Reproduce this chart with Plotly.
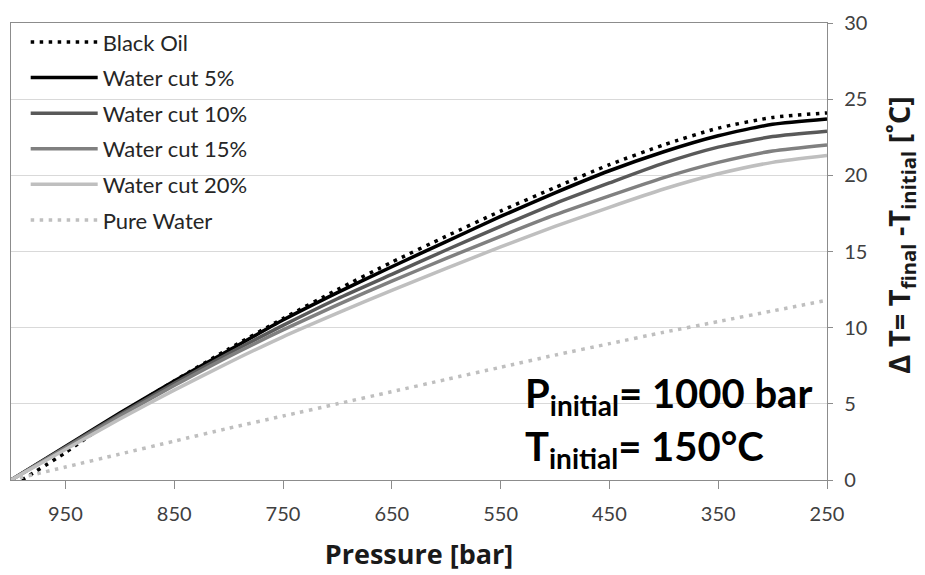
import plotly.graph_objects as go

pressure = [1000, 950, 900, 850, 800, 750, 700, 650, 600, 550, 500, 450, 400, 350, 300, 250]
black_oil_pressure = [990, 950, 900, 850, 800, 750, 700, 650, 600, 550, 500, 450, 400, 350, 300, 250]
black_oil = [0, 1.8, 4.3, 6.5, 8.6, 10.6, 12.5, 14.3, 16.0, 17.65, 19.2, 20.7, 22.0, 23.1, 23.8, 24.1]
wc5 = [0, 2.2, 4.4, 6.5, 8.5, 10.5, 12.3, 14.0, 15.65, 17.3, 18.85, 20.3, 21.55, 22.6, 23.35, 23.7]
wc10 = [0, 2.15, 4.3, 6.35, 8.3, 10.15, 11.9, 13.5, 15.1, 16.65, 18.15, 19.5, 20.8, 21.85, 22.55, 22.9]
wc15 = [0, 2.1, 4.2, 6.2, 8.1, 9.85, 11.5, 13.05, 14.55, 16.0, 17.4, 18.65, 19.85, 20.85, 21.6, 22.0]
wc20 = [0, 2.0, 4.0, 5.9, 7.7, 9.4, 10.95, 12.45, 13.9, 15.3, 16.65, 17.9, 19.1, 20.1, 20.85, 21.3]
pure_water = [0, 0.85, 1.7, 2.55, 3.4, 4.2, 5.0, 5.8, 6.6, 7.4, 8.2, 8.95, 9.7, 10.4, 11.1, 11.8]

x_ticks = [950, 850, 750, 650, 550, 450, 350, 250]
y_ticks = [0, 5, 10, 15, 20, 25, 30]

FONT = "Lato, Carlito, Calibri, sans-serif"
TITLE_FONT = "'Open Sans', Lato, sans-serif"

series = [
    ("Black Oil", black_oil_pressure, black_oil, "#000000", 3.5, "3.5px,5.5px"),
    ("Water cut 5%", pressure, wc5, "#000000", 3.5, "solid"),
    ("Water cut 10%", pressure, wc10, "#595959", 3.5, "solid"),
    ("Water cut 15%", pressure, wc15, "#808080", 3.5, "solid"),
    ("Water cut 20%", pressure, wc20, "#bfbfbf", 3.5, "solid"),
    ("Pure Water", pressure, pure_water, "#bfbfbf", 3.5, "3.5px,5.5px"),
]

fig = go.Figure()
for i, (name, xs, ys, color, w, dash) in enumerate(series):
    fig.add_trace(go.Scatter(
        x=xs, y=ys, name=name, mode="lines", legendgroup=f"g{i}",
        line=dict(color=color, width=w, dash=dash, shape="spline", smoothing=0.6),
    ))

fig.update_layout(
    width=925, height=575,
    margin=dict(l=10, r=98, t=16, b=95),
    paper_bgcolor="white", plot_bgcolor="white",
    font=dict(family=FONT, size=18, color="#262626"),
    showlegend=True,
    legend=dict(
        x=0.018, y=1.004, xanchor="left", yanchor="top",
        bgcolor="rgba(0,0,0,0)", borderwidth=0,
        font=dict(family=FONT, size=22, color="#262626"),
        itemwidth=67, traceorder="grouped", tracegroupgap=4,
    ),
    xaxis=dict(
        range=[1000, 250], tickvals=x_ticks, ticktext=[str(v) for v in x_ticks],
        showgrid=False, zeroline=False,
        showline=True, linecolor="#8c8c8c", linewidth=1.3, mirror=True,
        ticks="outside", ticklen=8, tickcolor="#8c8c8c", ticklabelstandoff=8,
        tickfont=dict(family=FONT, size=20, color="#404040"),
        title=dict(text="<b>Pressure [bar]</b>", font=dict(family=TITLE_FONT, size=27, color="#1a1a1a"), standoff=20),
    ),
    yaxis=dict(
        range=[0, 30], tickvals=y_ticks, side="right",
        showgrid=True, gridcolor="#d9d9d9", gridwidth=1, zeroline=False,
        showline=True, linecolor="#8c8c8c", linewidth=1.3, mirror=True,
        ticks="outside", ticklen=5, tickcolor="#8c8c8c", ticklabelstandoff=7,
        tickfont=dict(family=FONT, size=20, color="#404040"),
    ),
    annotations=[
        dict(text="<b>Δ T= T<sub>final</sub> -T<sub>initial</sub> [˚C]</b>", textangle=-90,
             xref="paper", yref="paper", x=1.089, y=0.536, xanchor="center", yanchor="middle",
             showarrow=False, font=dict(family=TITLE_FONT, size=29, color="#1a1a1a")),
        dict(text="<b>P<sub>initial</sub>= 1000 bar</b>",
             xref="paper", yref="paper", x=0.627, y=0.185, xanchor="left", yanchor="middle",
             showarrow=False, font=dict(family=FONT, size=40, color="#000000")),
        dict(text="<b>T<sub>initial</sub>= 150°C</b>",
             xref="paper", yref="paper", x=0.627, y=0.068, xanchor="left", yanchor="middle",
             showarrow=False, font=dict(family=FONT, size=40, color="#000000")),
    ],
)

fig.write_html("out.html")
